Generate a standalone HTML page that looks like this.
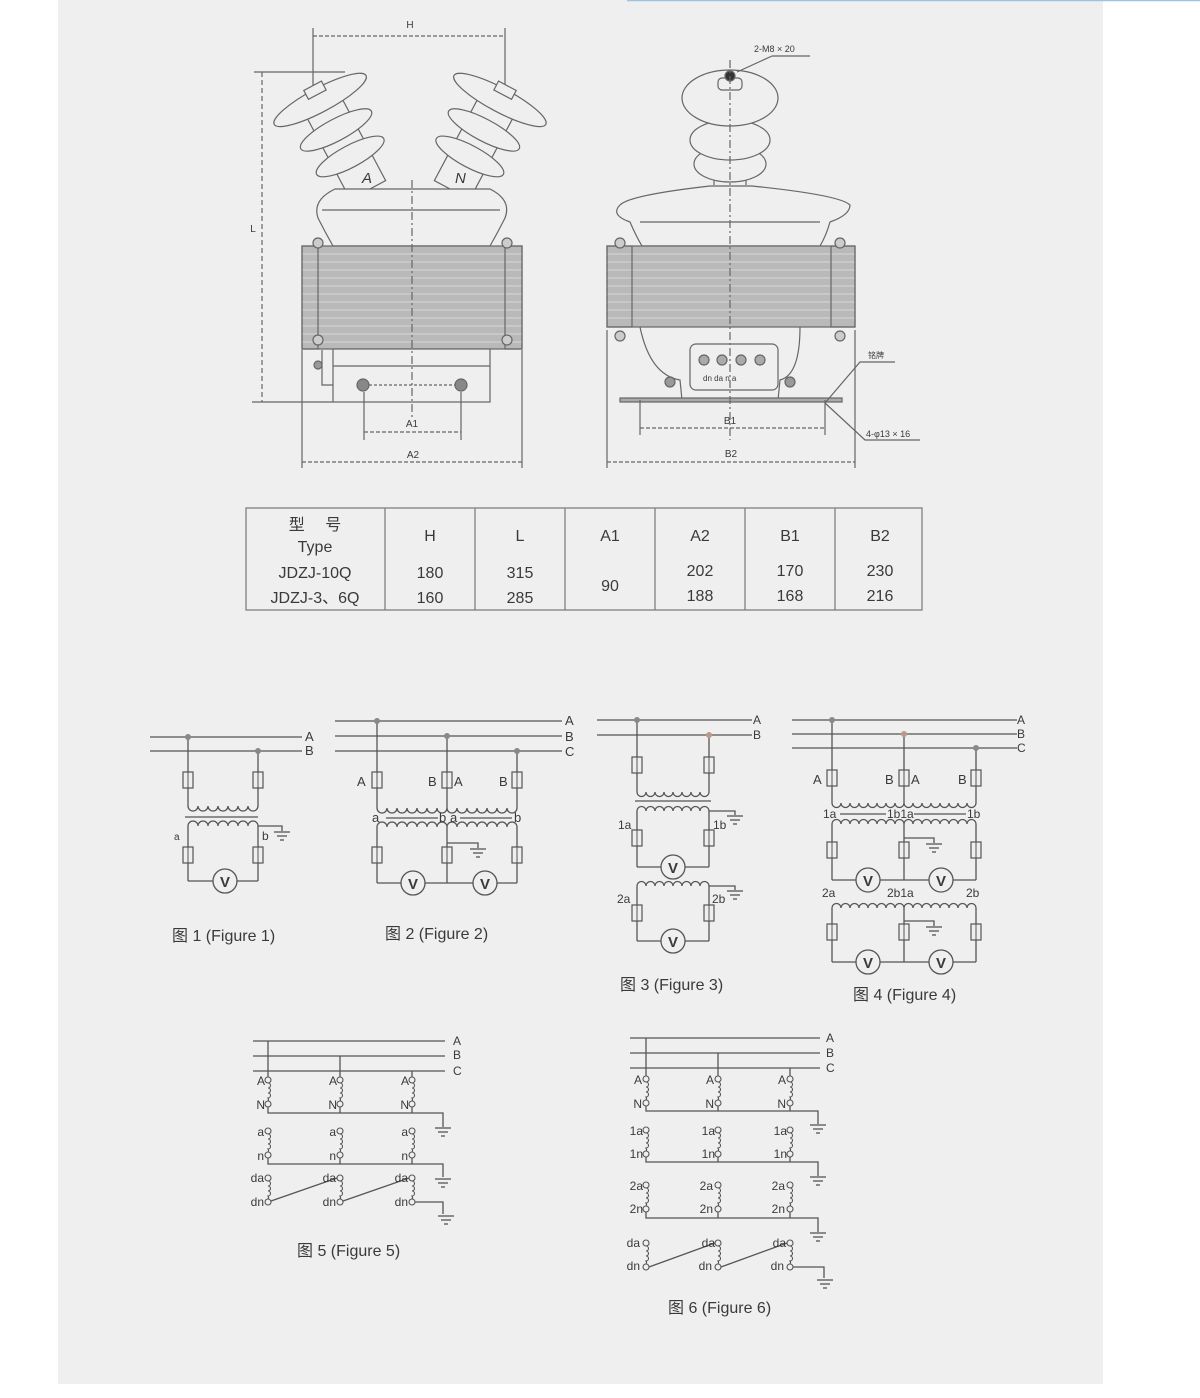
<!DOCTYPE html>
<html><head><meta charset="utf-8"><style>
html,body{margin:0;padding:0;background:#fff;}
svg{display:block;}
text{font-family:"Liberation Sans","Noto Sans CJK SC",sans-serif;fill:#3a3a3a;}
</style></head><body>
<svg width="1200" height="1398" viewBox="0 0 1200 1398" xmlns="http://www.w3.org/2000/svg">
<defs>
<symbol id="f" overflow="visible"><rect x="-5" y="0" width="10" height="16" fill="#efefef" stroke="#555" stroke-width="1.2"/><line x1="0" y1="0" x2="0" y2="16" stroke="#555" stroke-width="1"/></symbol>
<symbol id="g" overflow="visible"><g stroke="#555" stroke-width="1.3"><line x1="-8" y1="0" x2="8" y2="0"/><line x1="-5" y1="4" x2="5" y2="4"/><line x1="-2" y1="8" x2="2" y2="8"/></g></symbol>
<symbol id="t" overflow="visible"><g fill="#efefef" stroke="#555" stroke-width="1.1"><circle cx="0" cy="0" r="3"/><path d="M0,3 a2.5,2.5 0 0 1 0,5 a2.5,2.5 0 0 1 0,5 a2.5,2.5 0 0 1 0,5 a2.5,2.5 0 0 1 0,3" fill="none"/><circle cx="0" cy="24" r="3"/></g></symbol>
</defs>
<rect x="0" y="0" width="1200" height="1398" fill="#fff"/>
<rect x="58" y="0" width="1045" height="1384" fill="#efefef"/>
<line x1="627" y1="0.5" x2="1200" y2="0.5" stroke="#9cc3e0" stroke-width="1.5"/>

<!-- ========== LEFT TRANSFORMER ========== -->
<g stroke="#666" stroke-width="1.2" fill="none">
<!-- H dim -->
<line x1="313" y1="36" x2="505" y2="36" stroke-dasharray="4,2"/>
<line x1="313" y1="28" x2="313" y2="95"/><line x1="505" y1="28" x2="505" y2="95"/>
<!-- L dim -->
<line x1="262" y1="72" x2="262" y2="402" stroke-dasharray="5,3"/>
<line x1="254" y1="72" x2="345" y2="72"/><line x1="252" y1="402" x2="333" y2="402"/>
<!-- insulators -->
<g transform="translate(368,190) rotate(-28)" fill="#efefef">
<rect x="-20" y="-105" width="40" height="105"/>
<ellipse cx="0" cy="-102" rx="52" ry="12"/>
<ellipse cx="0" cy="-68" rx="40" ry="11"/>
<ellipse cx="0" cy="-38" rx="38" ry="11"/>
<rect x="-10" y="-118" width="20" height="10"/>
</g>
<g transform="translate(452,190) rotate(28)" fill="#efefef">
<rect x="-20" y="-105" width="40" height="105"/>
<ellipse cx="0" cy="-102" rx="52" ry="12"/>
<ellipse cx="0" cy="-68" rx="40" ry="11"/>
<ellipse cx="0" cy="-38" rx="38" ry="11"/>
<rect x="-10" y="-118" width="20" height="10"/>
</g>
<!-- upper body -->
<path d="M335,189 L490,189 Q512,200 505,218 Q498,232 490,246 L333,246 Q325,232 318,218 Q312,200 335,189Z" fill="#efefef"/>
<line x1="322" y1="210" x2="500" y2="210"/>
<!-- core -->
<rect x="302" y="246" width="220" height="103" fill="#b9b9b9"/>
<g stroke="#d8d8d8" stroke-width="1">
<line x1="302" y1="254" x2="522" y2="254"/><line x1="302" y1="262" x2="522" y2="262"/><line x1="302" y1="270" x2="522" y2="270"/><line x1="302" y1="278" x2="522" y2="278"/><line x1="302" y1="286" x2="522" y2="286"/><line x1="302" y1="294" x2="522" y2="294"/><line x1="302" y1="302" x2="522" y2="302"/><line x1="302" y1="310" x2="522" y2="310"/><line x1="302" y1="318" x2="522" y2="318"/><line x1="302" y1="326" x2="522" y2="326"/><line x1="302" y1="334" x2="522" y2="334"/><line x1="302" y1="342" x2="522" y2="342"/>
</g>
<rect x="302" y="246" width="16" height="103" fill="none"/><rect x="505" y="246" width="17" height="103" fill="none"/>
<circle cx="318" cy="243" r="5" fill="#ccc"/><circle cx="507" cy="243" r="5" fill="#ccc"/>
<circle cx="318" cy="340" r="5" fill="#ccc"/><circle cx="507" cy="340" r="5" fill="#ccc"/>
<!-- lower box -->
<rect x="333" y="349" width="157" height="53" fill="#efefef"/>
<line x1="333" y1="366" x2="490" y2="366"/>
<circle cx="363" cy="385" r="6" fill="#888"/><circle cx="461" cy="385" r="6" fill="#888"/>
<line x1="369" y1="385" x2="455" y2="385" stroke-dasharray="3,2"/>
<path d="M322,350 L322,385 L333,385"/><circle cx="318" cy="365" r="4" fill="#999"/>
<line x1="412" y1="180" x2="412" y2="420" stroke-dasharray="8,3,2,3"/>
<!-- A1 A2 -->
<line x1="364" y1="392" x2="364" y2="440"/><line x1="461" y1="392" x2="461" y2="440"/>
<line x1="364" y1="432" x2="461" y2="432" stroke-dasharray="4,2"/>
<line x1="302" y1="350" x2="302" y2="468"/><line x1="522" y1="350" x2="522" y2="468"/>
<line x1="302" y1="462" x2="522" y2="462" stroke-dasharray="4,2"/>
</g>
<text x="410" y="28" font-size="10" text-anchor="middle">H</text>
<text x="253" y="232" font-size="10" text-anchor="middle">L</text>
<text x="362" y="183" font-size="15" font-style="italic">A</text>
<text x="455" y="183" font-size="15" font-style="italic">N</text>
<text x="412" y="427" font-size="10" text-anchor="middle">A1</text>
<text x="413" y="458" font-size="10" text-anchor="middle">A2</text>

<!-- ========== RIGHT TRANSFORMER ========== -->
<g stroke="#666" stroke-width="1.2" fill="none">
<path d="M714,185 L714,170 L746,170 L746,185" fill="#efefef"/>
<ellipse cx="730" cy="164" rx="36" ry="18" fill="#efefef"/>
<ellipse cx="730" cy="140" rx="40" ry="20" fill="#efefef"/>
<ellipse cx="730" cy="98" rx="48" ry="28" fill="#efefef"/>
<rect x="718" y="78" width="24" height="12" rx="4" fill="#efefef"/>
<circle cx="730" cy="76" r="5" fill="#333"/>
<line x1="737" y1="72" x2="772" y2="56"/><line x1="772" y1="56" x2="810" y2="56"/>
<path d="M710,186 L752,186 Q840,195 850,205 Q850,215 830,222 Q826,236 820,246 L642,246 Q636,236 630,222 Q610,215 620,205 Q630,195 710,186Z" fill="#efefef"/>
<line x1="640" y1="222" x2="820" y2="222"/>
<rect x="607" y="246" width="248" height="81" fill="#b9b9b9"/>
<g stroke="#d8d8d8" stroke-width="1">
<line x1="607" y1="254" x2="855" y2="254"/><line x1="607" y1="262" x2="855" y2="262"/><line x1="607" y1="270" x2="855" y2="270"/><line x1="607" y1="278" x2="855" y2="278"/><line x1="607" y1="286" x2="855" y2="286"/><line x1="607" y1="294" x2="855" y2="294"/><line x1="607" y1="302" x2="855" y2="302"/><line x1="607" y1="310" x2="855" y2="310"/><line x1="607" y1="318" x2="855" y2="318"/>
</g>
<rect x="607" y="246" width="25" height="81"/><rect x="831" y="246" width="24" height="81"/>
<circle cx="620" cy="243" r="5" fill="#ccc"/><circle cx="840" cy="243" r="5" fill="#ccc"/>
<circle cx="620" cy="336" r="5" fill="#ccc"/><circle cx="840" cy="336" r="5" fill="#ccc"/>
<path d="M640,327 Q650,375 680,380 L682,400"/><path d="M800,327 Q800,375 780,380 L778,400"/>
<rect x="690" y="344" width="88" height="46" rx="6" fill="#efefef"/>
<circle cx="704" cy="360" r="5" fill="#aaa"/><circle cx="722" cy="360" r="5" fill="#aaa"/><circle cx="741" cy="360" r="5" fill="#aaa"/><circle cx="760" cy="360" r="5" fill="#aaa"/>
<circle cx="670" cy="382" r="5" fill="#999"/><circle cx="790" cy="382" r="5" fill="#999"/>
<rect x="620" y="398" width="222" height="4" fill="#aaa"/>
<line x1="730" y1="60" x2="730" y2="440" stroke-dasharray="8,3,2,3"/>
<line x1="640" y1="400" x2="640" y2="435"/><line x1="825" y1="400" x2="825" y2="435"/>
<line x1="640" y1="428" x2="825" y2="428" stroke-dasharray="4,2"/>
<line x1="607" y1="330" x2="607" y2="468"/><line x1="855" y1="330" x2="855" y2="468"/>
<line x1="607" y1="462" x2="855" y2="462" stroke-dasharray="4,2"/>
<path d="M825,403 L860,362 L895,362"/><path d="M825,403 L865,440 L920,440"/>
</g>
<text x="754" y="52" font-size="9">2-M8 × 20</text>
<text x="703" y="381" font-size="8">dn da  n   a</text>
<text x="730" y="424" font-size="10" text-anchor="middle">B1</text>
<text x="731" y="457" font-size="10" text-anchor="middle">B2</text>
<text x="868" y="358" font-size="8">铭牌</text>
<text x="866" y="437" font-size="9">4-φ13 × 16</text>

<!-- ========== TABLE ========== -->
<g stroke="#777" stroke-width="1.2" fill="none">
<rect x="246" y="508" width="676" height="102"/>
<line x1="385" y1="508" x2="385" y2="610"/><line x1="475" y1="508" x2="475" y2="610"/><line x1="565" y1="508" x2="565" y2="610"/><line x1="655" y1="508" x2="655" y2="610"/><line x1="745" y1="508" x2="745" y2="610"/><line x1="835" y1="508" x2="835" y2="610"/>
</g>
<g font-size="16" text-anchor="middle">
<text x="315" y="530">型　 号</text><text x="315" y="552">Type</text>
<text x="315" y="578">JDZJ-10Q</text><text x="315" y="603">JDZJ-3、6Q</text>
<text x="430" y="541">H</text><text x="520" y="541">L</text><text x="610" y="541">A1</text><text x="700" y="541">A2</text><text x="790" y="541">B1</text><text x="880" y="541">B2</text>
<text x="430" y="578">180</text><text x="430" y="603">160</text>
<text x="520" y="578">315</text><text x="520" y="603">285</text>
<text x="610" y="591">90</text>
<text x="700" y="576">202</text><text x="700" y="601">188</text>
<text x="790" y="576">170</text><text x="790" y="601">168</text>
<text x="880" y="576">230</text><text x="880" y="601">216</text>
</g>

<!-- ========== FIGURE 1 ========== -->
<g stroke="#555" stroke-width="1.3" fill="none">
<line x1="150" y1="737" x2="302" y2="737"/><line x1="150" y1="751" x2="302" y2="751"/>
<line x1="188" y1="737" x2="188" y2="806"/><line x1="258" y1="751" x2="258" y2="806"/>
<path d="M188,806 a5,5 0 0 0 10,0 a5,5 0 0 0 10,0 a5,5 0 0 0 10,0 a5,5 0 0 0 10,0 a5,5 0 0 0 10,0 a5,5 0 0 0 10,0 a5,5 0 0 0 10,0"/>
<line x1="185" y1="817" x2="258" y2="817"/>
<path d="M188,826 a5,5 0 0 1 10,0 a5,5 0 0 1 10,0 a5,5 0 0 1 10,0 a5,5 0 0 1 10,0 a5,5 0 0 1 10,0 a5,5 0 0 1 10,0 a5,5 0 0 1 10,0"/>
<line x1="188" y1="826" x2="188" y2="881"/><line x1="258" y1="826" x2="258" y2="881"/>
<line x1="188" y1="881" x2="258" y2="881"/>
<path d="M258,826 L282,826 L282,831"/>
</g>
<circle cx="188" cy="737" r="3" fill="#888"/><circle cx="258" cy="751" r="3" fill="#888"/>
<use href="#f" x="188" y="772"/><use href="#f" x="258" y="772"/>
<use href="#f" x="188" y="847"/><use href="#f" x="258" y="847"/>
<use href="#g" x="282" y="832"/>
<circle cx="225" cy="881" r="12" fill="#efefef" stroke="#555" stroke-width="1.3"/>
<text x="225" y="887" font-size="15" font-weight="bold" text-anchor="middle">V</text>
<text x="305" y="741" font-size="13">A</text><text x="305" y="755" font-size="13">B</text>
<text x="174" y="840" font-size="10">a</text><text x="262" y="840" font-size="12">b</text>
<text x="172" y="941" font-size="16">图 1 (Figure 1)</text>

<!-- ========== FIGURE 2 ========== -->
<g stroke="#555" stroke-width="1.3" fill="none">
<line x1="335" y1="721" x2="562" y2="721"/><line x1="335" y1="736" x2="562" y2="736"/><line x1="335" y1="751" x2="562" y2="751"/>
<line x1="377" y1="721" x2="377" y2="808"/><line x1="447" y1="736" x2="447" y2="808"/><line x1="517" y1="751" x2="517" y2="808"/>
<path d="M377,808 a5,5 0 0 0 10,0 a5,5 0 0 0 10,0 a5,5 0 0 0 10,0 a5,5 0 0 0 10,0 a5,5 0 0 0 10,0 a5,5 0 0 0 10,0 a5,5 0 0 0 10,0 a5,5 0 0 0 10,0 a5,5 0 0 0 10,0 a5,5 0 0 0 10,0 a5,5 0 0 0 10,0 a5,5 0 0 0 10,0 a5,5 0 0 0 10,0 a5,5 0 0 0 10,0"/>
<line x1="386" y1="818" x2="438" y2="818"/><line x1="460" y1="818" x2="512" y2="818"/>
<path d="M377,827 a5,5 0 0 1 10,0 a5,5 0 0 1 10,0 a5,5 0 0 1 10,0 a5,5 0 0 1 10,0 a5,5 0 0 1 10,0 a5,5 0 0 1 10,0 a5,5 0 0 1 10,0 a5,5 0 0 1 10,0 a5,5 0 0 1 10,0 a5,5 0 0 1 10,0 a5,5 0 0 1 10,0 a5,5 0 0 1 10,0 a5,5 0 0 1 10,0 a5,5 0 0 1 10,0"/>
<line x1="377" y1="827" x2="377" y2="883"/><line x1="447" y1="827" x2="447" y2="883"/><line x1="517" y1="827" x2="517" y2="883"/>
<line x1="377" y1="883" x2="517" y2="883"/>
<path d="M447,843 L478,843 L478,848"/>
</g>
<circle cx="377" cy="721" r="3" fill="#888"/><circle cx="447" cy="736" r="3" fill="#888"/><circle cx="517" cy="751" r="3" fill="#888"/>
<use href="#f" x="377" y="772"/><use href="#f" x="447" y="772"/><use href="#f" x="517" y="772"/>
<use href="#f" x="377" y="847"/><use href="#f" x="447" y="847"/><use href="#f" x="517" y="847"/>
<use href="#g" x="478" y="849"/>
<circle cx="413" cy="883" r="12" fill="#efefef" stroke="#555" stroke-width="1.3"/><text x="413" y="889" font-size="15" font-weight="bold" text-anchor="middle">V</text>
<circle cx="485" cy="883" r="12" fill="#efefef" stroke="#555" stroke-width="1.3"/><text x="485" y="889" font-size="15" font-weight="bold" text-anchor="middle">V</text>
<g font-size="13"><text x="565" y="725">A</text><text x="565" y="741">B</text><text x="565" y="756">C</text>
<text x="357" y="786">A</text><text x="428" y="786">B</text><text x="454" y="786">A</text><text x="499" y="786">B</text>
<text x="372" y="822">a</text><text x="439" y="822">b</text><text x="450" y="822">a</text><text x="514" y="822">b</text></g>
<text x="385" y="939" font-size="16">图 2 (Figure 2)</text>

<!-- ========== FIGURE 3 ========== -->
<g stroke="#555" stroke-width="1.3" fill="none">
<line x1="597" y1="720" x2="752" y2="720"/><line x1="597" y1="735" x2="752" y2="735"/>
<line x1="637" y1="720" x2="637" y2="792"/><line x1="709" y1="735" x2="709" y2="792"/>
<path d="M637,792 a4.5,4.5 0 0 0 9,0 a4.5,4.5 0 0 0 9,0 a4.5,4.5 0 0 0 9,0 a4.5,4.5 0 0 0 9,0 a4.5,4.5 0 0 0 9,0 a4.5,4.5 0 0 0 9,0 a4.5,4.5 0 0 0 9,0 a4.5,4.5 0 0 0 9,0"/>
<line x1="635" y1="801" x2="711" y2="801"/>
<path d="M637,811 a4.5,4.5 0 0 1 9,0 a4.5,4.5 0 0 1 9,0 a4.5,4.5 0 0 1 9,0 a4.5,4.5 0 0 1 9,0 a4.5,4.5 0 0 1 9,0 a4.5,4.5 0 0 1 9,0 a4.5,4.5 0 0 1 9,0 a4.5,4.5 0 0 1 9,0"/>
<line x1="637" y1="811" x2="637" y2="867"/><line x1="709" y1="811" x2="709" y2="867"/><line x1="637" y1="867" x2="709" y2="867"/>
<path d="M709,811 L735,811 L735,815"/>
<path d="M637,886 a4.5,4.5 0 0 1 9,0 a4.5,4.5 0 0 1 9,0 a4.5,4.5 0 0 1 9,0 a4.5,4.5 0 0 1 9,0 a4.5,4.5 0 0 1 9,0 a4.5,4.5 0 0 1 9,0 a4.5,4.5 0 0 1 9,0 a4.5,4.5 0 0 1 9,0"/>
<line x1="637" y1="886" x2="637" y2="941"/><line x1="709" y1="886" x2="709" y2="941"/><line x1="637" y1="941" x2="709" y2="941"/>
<path d="M709,886 L735,886 L735,890"/>
</g>
<circle cx="637" cy="720" r="3" fill="#888"/><circle cx="709" cy="735" r="3" fill="#b98"/>
<use href="#f" x="637" y="757"/><use href="#f" x="709" y="757"/>
<use href="#f" x="637" y="830"/><use href="#f" x="709" y="830"/>
<use href="#f" x="637" y="905"/><use href="#f" x="709" y="905"/>
<use href="#g" x="735" y="816"/><use href="#g" x="735" y="891"/>
<circle cx="673" cy="867" r="12" fill="#efefef" stroke="#555" stroke-width="1.3"/><text x="673" y="873" font-size="15" font-weight="bold" text-anchor="middle">V</text>
<circle cx="673" cy="941" r="12" fill="#efefef" stroke="#555" stroke-width="1.3"/><text x="673" y="947" font-size="15" font-weight="bold" text-anchor="middle">V</text>
<g font-size="12"><text x="753" y="724">A</text><text x="753" y="739">B</text>
<text x="618" y="829">1a</text><text x="713" y="829">1b</text><text x="617" y="903">2a</text><text x="712" y="903">2b</text></g>
<text x="620" y="990" font-size="16">图 3 (Figure 3)</text>

<!-- ========== FIGURE 4 ========== -->
<g stroke="#555" stroke-width="1.3" fill="none">
<line x1="792" y1="720" x2="1017" y2="720"/><line x1="792" y1="734" x2="1017" y2="734"/><line x1="792" y1="748" x2="1017" y2="748"/>
<line x1="832" y1="720" x2="832" y2="803"/><line x1="904" y1="734" x2="904" y2="803"/><line x1="976" y1="748" x2="976" y2="803"/>
<path d="M832,803 a4.5,4.5 0 0 0 9,0 a4.5,4.5 0 0 0 9,0 a4.5,4.5 0 0 0 9,0 a4.5,4.5 0 0 0 9,0 a4.5,4.5 0 0 0 9,0 a4.5,4.5 0 0 0 9,0 a4.5,4.5 0 0 0 9,0 a4.5,4.5 0 0 0 9,0 a4.5,4.5 0 0 0 9,0 a4.5,4.5 0 0 0 9,0 a4.5,4.5 0 0 0 9,0 a4.5,4.5 0 0 0 9,0 a4.5,4.5 0 0 0 9,0 a4.5,4.5 0 0 0 9,0 a4.5,4.5 0 0 0 9,0 a4.5,4.5 0 0 0 9,0"/>
<line x1="840" y1="814" x2="886" y2="814"/><line x1="914" y1="814" x2="966" y2="814"/>
<path d="M832,824 a4.5,4.5 0 0 1 9,0 a4.5,4.5 0 0 1 9,0 a4.5,4.5 0 0 1 9,0 a4.5,4.5 0 0 1 9,0 a4.5,4.5 0 0 1 9,0 a4.5,4.5 0 0 1 9,0 a4.5,4.5 0 0 1 9,0 a4.5,4.5 0 0 1 9,0 a4.5,4.5 0 0 1 9,0 a4.5,4.5 0 0 1 9,0 a4.5,4.5 0 0 1 9,0 a4.5,4.5 0 0 1 9,0 a4.5,4.5 0 0 1 9,0 a4.5,4.5 0 0 1 9,0 a4.5,4.5 0 0 1 9,0 a4.5,4.5 0 0 1 9,0"/>
<line x1="832" y1="824" x2="832" y2="880"/><line x1="904" y1="824" x2="904" y2="880"/><line x1="976" y1="824" x2="976" y2="880"/><line x1="832" y1="880" x2="976" y2="880"/>
<path d="M904,838 L934,838 L934,843"/>
<path d="M832,908 a4.5,4.5 0 0 1 9,0 a4.5,4.5 0 0 1 9,0 a4.5,4.5 0 0 1 9,0 a4.5,4.5 0 0 1 9,0 a4.5,4.5 0 0 1 9,0 a4.5,4.5 0 0 1 9,0 a4.5,4.5 0 0 1 9,0 a4.5,4.5 0 0 1 9,0 a4.5,4.5 0 0 1 9,0 a4.5,4.5 0 0 1 9,0 a4.5,4.5 0 0 1 9,0 a4.5,4.5 0 0 1 9,0 a4.5,4.5 0 0 1 9,0 a4.5,4.5 0 0 1 9,0 a4.5,4.5 0 0 1 9,0 a4.5,4.5 0 0 1 9,0"/>
<line x1="832" y1="908" x2="832" y2="962"/><line x1="904" y1="908" x2="904" y2="962"/><line x1="976" y1="908" x2="976" y2="962"/><line x1="832" y1="962" x2="976" y2="962"/>
<path d="M904,921 L934,921 L934,926"/>
</g>
<circle cx="832" cy="720" r="3" fill="#888"/><circle cx="904" cy="734" r="3" fill="#b98"/><circle cx="976" cy="748" r="3" fill="#888"/>
<use href="#f" x="832" y="770"/><use href="#f" x="904" y="770"/><use href="#f" x="976" y="770"/>
<use href="#f" x="832" y="842"/><use href="#f" x="904" y="842"/><use href="#f" x="976" y="842"/>
<use href="#f" x="832" y="924"/><use href="#f" x="904" y="924"/><use href="#f" x="976" y="924"/>
<use href="#g" x="934" y="844"/><use href="#g" x="934" y="927"/>
<circle cx="868" cy="880" r="12" fill="#efefef" stroke="#555" stroke-width="1.3"/><text x="868" y="886" font-size="15" font-weight="bold" text-anchor="middle">V</text>
<circle cx="941" cy="880" r="12" fill="#efefef" stroke="#555" stroke-width="1.3"/><text x="941" y="886" font-size="15" font-weight="bold" text-anchor="middle">V</text>
<circle cx="868" cy="962" r="12" fill="#efefef" stroke="#555" stroke-width="1.3"/><text x="868" y="968" font-size="15" font-weight="bold" text-anchor="middle">V</text>
<circle cx="941" cy="962" r="12" fill="#efefef" stroke="#555" stroke-width="1.3"/><text x="941" y="968" font-size="15" font-weight="bold" text-anchor="middle">V</text>
<g font-size="12"><text x="1017" y="724">A</text><text x="1017" y="738">B</text><text x="1017" y="752">C</text>
<text x="813" y="784" font-size="13">A</text><text x="885" y="784" font-size="13">B</text><text x="911" y="784" font-size="13">A</text><text x="958" y="784" font-size="13">B</text>
<text x="823" y="818">1a</text><text x="887" y="818">1b1a</text><text x="967" y="818">1b</text>
<text x="822" y="897">2a</text><text x="887" y="897">2b1a</text><text x="966" y="897">2b</text></g>
<text x="853" y="1000" font-size="16">图 4 (Figure 4)</text>

<!-- ========== FIGURE 5 ========== -->
<g stroke="#555" stroke-width="1.3" fill="none">
<line x1="253" y1="1041" x2="445" y2="1041"/><line x1="253" y1="1056" x2="445" y2="1056"/><line x1="253" y1="1071" x2="445" y2="1071"/>
<line x1="268" y1="1041" x2="268" y2="1077"/><line x1="340" y1="1056" x2="340" y2="1077"/><line x1="412" y1="1071" x2="412" y2="1077"/>
<path d="M268,1107 L268,1113 L443,1113 L443,1127"/><line x1="340" y1="1107" x2="340" y2="1113"/><line x1="412" y1="1107" x2="412" y2="1113"/>
<path d="M268,1158 L268,1164 L443,1164 L443,1177"/><line x1="340" y1="1158" x2="340" y2="1164"/><line x1="412" y1="1158" x2="412" y2="1164"/>
<line x1="271" y1="1201" x2="337" y2="1178"/><line x1="343" y1="1201" x2="409" y2="1178"/>
<path d="M415,1202 L443,1202 L443,1214"/>
</g>
<use href="#t" x="268" y="1080"/><use href="#t" x="340" y="1080"/><use href="#t" x="412" y="1080"/>
<use href="#t" x="268" y="1131"/><use href="#t" x="340" y="1131"/><use href="#t" x="412" y="1131"/>
<use href="#t" x="268" y="1178"/><use href="#t" x="340" y="1178"/><use href="#t" x="412" y="1178"/>
<use href="#g" x="443" y="1128"/><use href="#g" x="443" y="1179"/><use href="#g" x="446" y="1216"/>
<g font-size="12" text-anchor="end"><text x="453" y="1045" text-anchor="start">A</text><text x="453" y="1059" text-anchor="start">B</text><text x="453" y="1075" text-anchor="start">C</text>
<text x="265" y="1085">A</text><text x="337" y="1085">A</text><text x="409" y="1085">A</text>
<text x="265" y="1109">N</text><text x="337" y="1109">N</text><text x="409" y="1109">N</text>
<text x="264" y="1136">a</text><text x="336" y="1136">a</text><text x="408" y="1136">a</text>
<text x="264" y="1160">n</text><text x="336" y="1160">n</text><text x="408" y="1160">n</text>
<text x="264" y="1182">da</text><text x="336" y="1182">da</text><text x="408" y="1182">da</text>
<text x="264" y="1206">dn</text><text x="336" y="1206">dn</text><text x="408" y="1206">dn</text></g>
<text x="297" y="1256" font-size="16">图 5 (Figure 5)</text>

<!-- ========== FIGURE 6 ========== -->
<g stroke="#555" stroke-width="1.3" fill="none">
<line x1="630" y1="1038" x2="820" y2="1038"/><line x1="630" y1="1053" x2="820" y2="1053"/><line x1="630" y1="1068" x2="820" y2="1068"/>
<line x1="646" y1="1038" x2="646" y2="1076"/><line x1="718" y1="1053" x2="718" y2="1076"/><line x1="790" y1="1068" x2="790" y2="1076"/>
<path d="M646,1106 L646,1111 L818,1111 L818,1124"/><line x1="718" y1="1106" x2="718" y2="1111"/><line x1="790" y1="1106" x2="790" y2="1111"/>
<path d="M646,1157 L646,1162 L818,1162 L818,1176"/><line x1="718" y1="1157" x2="718" y2="1162"/><line x1="790" y1="1157" x2="790" y2="1162"/>
<path d="M646,1212 L646,1218 L818,1218 L818,1232"/><line x1="718" y1="1212" x2="718" y2="1218"/><line x1="790" y1="1212" x2="790" y2="1218"/>
<line x1="649" y1="1267" x2="715" y2="1243"/><line x1="721" y1="1267" x2="787" y2="1243"/>
<path d="M793,1267 L824,1267 L824,1278"/>
</g>
<use href="#t" x="646" y="1079"/><use href="#t" x="718" y="1079"/><use href="#t" x="790" y="1079"/>
<use href="#t" x="646" y="1130"/><use href="#t" x="718" y="1130"/><use href="#t" x="790" y="1130"/>
<use href="#t" x="646" y="1185"/><use href="#t" x="718" y="1185"/><use href="#t" x="790" y="1185"/>
<use href="#t" x="646" y="1243"/><use href="#t" x="718" y="1243"/><use href="#t" x="790" y="1243"/>
<use href="#g" x="818" y="1125"/><use href="#g" x="818" y="1177"/><use href="#g" x="818" y="1233"/><use href="#g" x="825" y="1280"/>
<g font-size="12" text-anchor="end"><text x="826" y="1042" text-anchor="start">A</text><text x="826" y="1057" text-anchor="start">B</text><text x="826" y="1072" text-anchor="start">C</text>
<text x="642" y="1084">A</text><text x="714" y="1084">A</text><text x="786" y="1084">A</text>
<text x="642" y="1108">N</text><text x="714" y="1108">N</text><text x="786" y="1108">N</text>
<text x="643" y="1135">1a</text><text x="715" y="1135">1a</text><text x="787" y="1135">1a</text>
<text x="643" y="1158">1n</text><text x="715" y="1158">1n</text><text x="787" y="1158">1n</text>
<text x="643" y="1190">2a</text><text x="713" y="1190">2a</text><text x="785" y="1190">2a</text>
<text x="643" y="1213">2n</text><text x="713" y="1213">2n</text><text x="785" y="1213">2n</text>
<text x="640" y="1247">da</text><text x="715" y="1247">da</text><text x="786" y="1247">da</text>
<text x="640" y="1270">dn</text><text x="712" y="1270">dn</text><text x="784" y="1270">dn</text></g>
<text x="668" y="1313" font-size="16">图 6 (Figure 6)</text>
</svg>
</body></html>
